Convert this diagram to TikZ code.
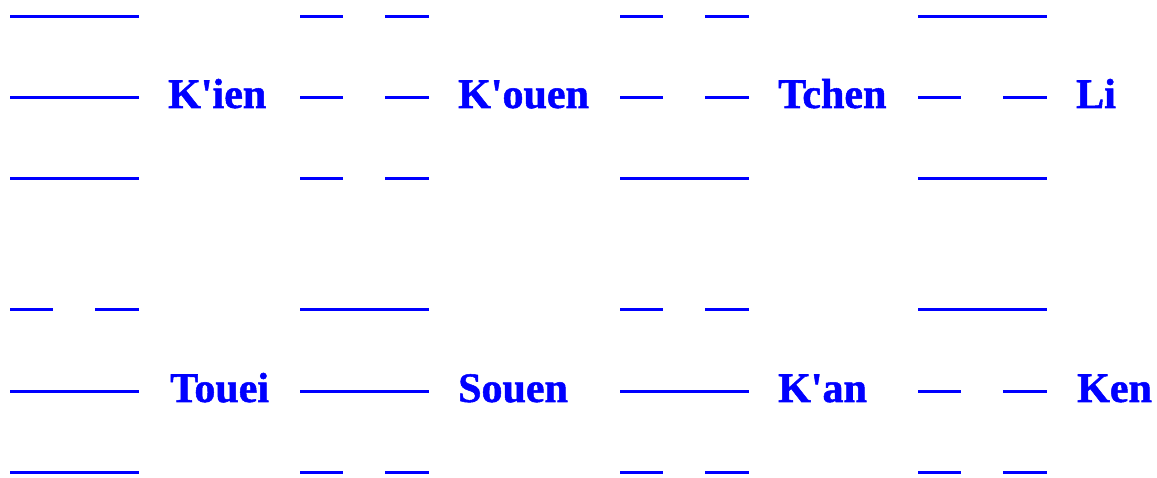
\documentclass[tikz,border=0pt]{standalone}
\usepackage{fontspec}
\newfontfamily\guafont{Liberation Serif Bold}[Ligatures=TeXOff, FakeBold=1.2]
\usetikzlibrary{positioning}

% one line of a trigram: x, y, 1 = whole / 0 = broken
\newcommand{\drawyao}[3]{%
  \ifnum#3=1
    \draw[yao] (#1,#2) -- ++(129,0);
  \else
    \draw[yao] (#1,#2) -- ++(43,0);
    \draw[yao] (#1+85,#2) -- ++(44,0);
  \fi}
% three lines, top to bottom
\newcommand{\trigram}[5]{%
  \drawyao{#1}{#2}{#3}%
  \drawyao{#1}{#2+81}{#4}%
  \drawyao{#1}{#2+162}{#5}}

\begin{document}
\begin{tikzpicture}[
    x=1pt, y=-1pt,
    yao/.style={draw=blue, line width=3pt},
    tname/.style={anchor=base west, inner sep=0pt, text=blue, font=\guafont\fontsize{42}{50}\selectfont}
]
\useasboundingbox (0,0) rectangle (1157,478);

% Upper row
\trigram{10}{17}{1}{1}{1}
\node[tname] (kien) at (168,108) {K'ien};
\trigram{300}{17}{0}{0}{0}
\node[tname] (kouen) at (458,108) {K'ouen};
\trigram{620}{17}{0}{0}{1}
\node[tname] (tchen) at (778,108) {Tchen};
\trigram{918}{17}{1}{0}{1}
\node[tname] (li) at (1076,108) {Li};

% Lower row
\trigram{10}{310}{0}{1}{1}
\node[tname] (touei) at (170,402) {Touei};
\trigram{300}{310}{1}{1}{0}
\node[tname] (souen) at (458,402) {Souen};
\trigram{620}{310}{0}{1}{0}
\node[tname] (kan) at (778,402) {K'an};
\trigram{918}{310}{1}{0}{0}
\node[tname] (ken) at (1077,402) {Ken};

\end{tikzpicture}
\end{document}
